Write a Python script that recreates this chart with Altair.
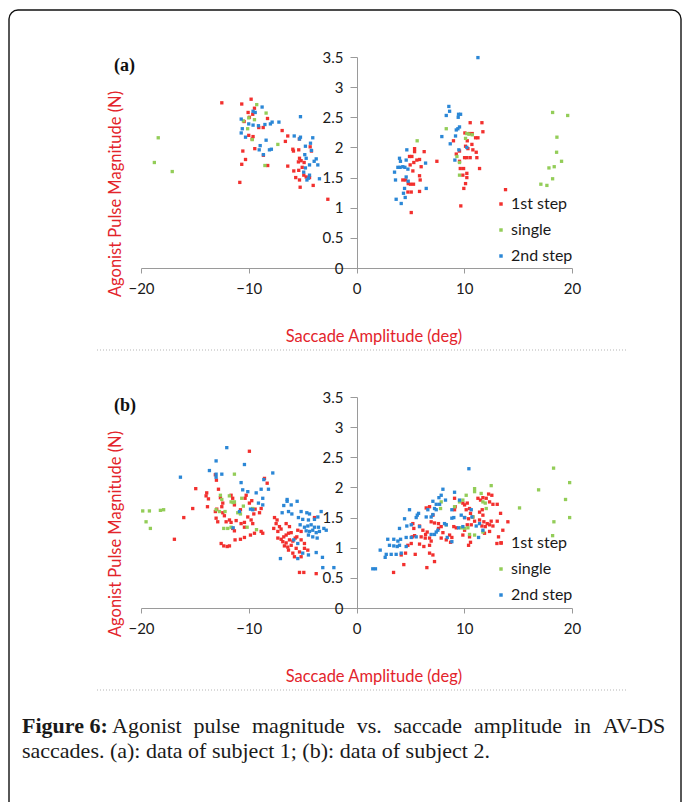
import altair as alt
import pandas as pd

SERIES = ["1st step", "single", "2nd step"]
COLORS = ["#f2302e", "#93cd58", "#2b87d6"]
X_TICKS = [-20, -10, 0, 10, 20]
Y_TICKS = [0, 0.5, 1, 1.5, 2, 2.5, 3, 3.5]
X_TITLE = "Saccade Amplitude (deg)"
Y_TITLE = "Agonist Pulse Magnitude (N)"

# ---------------- panel (a): subject 1 ----------------
a_first = [(-12.5, 2.74), (-10.65, 2.72), (-9.78, 2.80), (-10.06, 2.58), (-9.63, 2.55), (-9.94, 2.50),
           (-10.43, 2.43), (-8.26, 2.48), (-9.07, 2.33), (-8.66, 2.33), (-10.55, 1.94), (-10.3, 1.80),
           (-10.65, 1.72), (-10.83, 1.42), (-9.68, 2.14), (-9.44, 1.98), (-10.0, 2.20), (-9.6, 2.18),
           (-8.24, 1.70), (-8.64, 1.87), (-9.47, 2.65), (-6.9, 2.28), (-6.38, 2.19), (-6.6, 2.10),
           (-6.38, 1.69), (-5.91, 1.97), (-5.85, 1.94), (-5.36, 1.96), (-5.29, 1.82), (-5.39, 1.76),
           (-5.14, 1.78), (-4.86, 1.75), (-5.04, 1.67), (-5.36, 1.62), (-5.82, 1.61), (-5.64, 1.50),
           (-5.29, 1.46), (-4.89, 1.54), (-4.67, 1.51), (-5.23, 1.34), (-4.36, 1.50), (-4.02, 1.37),
           (-2.66, 1.14), (-5.3, 2.14), (-4.3, 2.01), (-4.18, 1.94),
           (5.39, 1.98), (5.39, 1.93), (4.92, 1.85), (5.14, 1.85), (6.28, 1.93), (5.6, 1.79), (5.85, 1.80),
           (5.32, 1.75), (4.98, 1.71), (6.0, 1.68), (5.23, 1.61), (4.3, 1.46), (4.55, 1.46), (5.85, 1.53),
           (5.91, 1.46), (4.8, 1.40), (5.01, 1.39), (5.29, 1.39), (4.77, 1.26), (5.08, 1.26), (5.85, 1.27),
           (5.08, 0.92), (7.46, 1.77),
           (10.55, 2.41), (11.64, 2.41), (11.73, 2.26), (10.06, 2.24), (10.49, 2.23), (10.74, 2.23),
           (9.0, 2.11), (10.28, 2.11), (11.05, 2.16), (11.27, 2.16), (10.71, 2.05), (10.12, 2.02),
           (10.34, 1.98), (9.56, 1.94), (10.8, 1.96), (9.26, 1.89), (11.11, 1.92), (10.03, 1.83),
           (10.24, 1.83), (10.55, 1.83), (11.17, 1.83), (9.56, 1.77), (9.63, 1.65), (9.94, 1.65),
           (11.42, 1.65), (10.24, 1.57), (9.87, 1.54), (10.24, 1.50), (10.12, 1.40), (9.96, 1.32),
           (9.68, 1.03), (13.83, 1.30)]
a_single = [(-18.4, 2.16), (-18.76, 1.75), (-17.1, 1.60), (-9.26, 2.71), (-8.39, 2.57), (-10.5, 2.44),
            (-10.0, 2.49), (-9.47, 2.46), (-10.1, 2.31), (-9.68, 2.13), (-7.3, 2.05), (-8.5, 1.70),
            (5.63, 2.11), (8.33, 2.31), (10.24, 2.23), (10.43, 2.22), (10.74, 2.21), (10.12, 2.15),
            (9.32, 1.85), (9.56, 1.75), (9.56, 1.54),
            (18.2, 2.58), (19.6, 2.53), (18.6, 2.17), (18.57, 1.92), (19.03, 1.77), (17.86, 1.66),
            (18.35, 1.68), (18.2, 1.48), (17.11, 1.39), (17.67, 1.37)]
a_second = [(-8.76, 2.67), (-10.7, 2.47), (-9.6, 2.60), (-9.4, 2.58), (-10.0, 2.39), (-10.6, 2.31),
            (-10.7, 2.24), (-10.3, 2.17), (-9.6, 2.37), (-9.1, 2.36), (-8.5, 2.38), (-7.99, 2.39),
            (-7.83, 2.42), (-7.2, 2.42), (-8.39, 2.12), (-8.94, 2.03), (-9.03, 1.96), (-8.64, 1.88),
            (-8.08, 1.96), (-7.9, 1.97), (-5.2, 2.51), (-5.78, 2.19), (-5.2, 2.17), (-5.29, 2.14),
            (-4.74, 2.02), (-4.27, 2.07), (-4.06, 2.16), (-4.18, 1.95), (-4.8, 1.88), (-4.67, 1.82),
            (-3.74, 1.81), (-3.93, 1.77), (-3.59, 1.71), (-4.36, 1.71), (-4.74, 1.66), (-4.9, 1.59),
            (-4.36, 1.54), (-4.46, 1.49), (-4.6, 1.46), (-3.44, 1.48),
            (11.27, 3.49), (8.57, 2.68), (8.64, 2.60), (8.33, 2.53), (9.47, 2.55), (9.66, 2.55),
            (9.44, 2.50), (9.56, 2.34), (9.41, 2.31), (9.26, 2.29), (9.19, 2.19), (7.92, 2.18),
            (8.7, 2.06), (10.24, 2.00), (9.5, 1.96), (9.13, 1.79),
            (4.67, 1.96), (3.99, 1.82), (4.08, 1.77), (4.61, 1.79), (3.84, 1.67), (4.05, 1.67),
            (4.3, 1.68), (4.49, 1.67), (3.53, 1.59), (4.77, 1.64), (4.61, 1.51), (3.62, 1.46),
            (4.8, 1.44), (4.46, 1.32), (4.36, 1.24), (3.68, 1.14), (4.15, 1.07), (4.52, 1.17),
            (6.41, 1.74), (6.47, 1.32)]

# ---------------- panel (b): subject 2 ----------------
b_first = [(-16.9, 1.14), (-16.03, 1.50), (-15.2, 1.65), (-14.92, 1.98), (-13.96, 1.86), (-13.83, 1.68),
           (-13.74, 1.81), (-9.94, 2.60), (-13.9, 1.91), (-13.1, 1.60), (-12.97, 1.64), (-12.81, 1.97),
           (-12.63, 1.83), (-12.41, 1.74), (-12.5, 1.68), (-13.03, 1.49), (-12.88, 1.43), (-12.41, 1.58),
           (-12.26, 1.53), (-12.1, 1.43), (-11.79, 1.46), (-11.64, 1.42), (-11.64, 1.87), (-11.49, 1.82),
           (-11.33, 1.71), (-12.56, 1.07), (-12.32, 1.03), (-12.0, 1.02), (-11.79, 1.03), (-11.49, 1.32),
           (-11.33, 1.28), (-11.27, 1.13), (-10.77, 1.14), (-10.4, 1.17), (-10.71, 1.40), (-10.4, 1.42),
           (-10.4, 1.34), (-10.09, 1.51), (-9.78, 1.46), (-10.24, 1.87), (-10.34, 1.82), (-9.94, 1.74),
           (-9.72, 1.78), (-9.41, 1.64), (-9.53, 1.56), (-10.77, 1.63), (-11.17, 1.45), (-9.84, 1.21),
           (-9.47, 1.24), (-8.7, 1.24), (-8.85, 1.27), (-9.63, 1.40), (-8.54, 2.15), (-8.29, 2.07),
           (-8.85, 1.65), (-9.0, 1.58), (-13.1, 2.21), (-13.0, 2.12),
           (-7.61, 1.50), (-7.37, 1.46), (-7.46, 1.40), (-7.15, 1.35), (-7.68, 1.32), (-7.3, 1.27),
           (-7.0, 1.31), (-7.3, 1.16), (-6.99, 1.14), (-6.75, 1.18), (-6.53, 1.21), (-6.31, 1.24),
           (-6.06, 1.25), (-6.84, 1.10), (-6.53, 1.08), (-6.22, 1.13), (-5.91, 1.11), (-5.69, 1.16),
           (-5.54, 1.18), (-6.69, 1.03), (-6.38, 1.01), (-6.06, 1.04), (-6.31, 0.96), (-5.91, 0.91),
           (-5.6, 0.99), (-6.53, 1.40), (-6.22, 1.35), (-5.45, 1.29), (-5.14, 1.27), (-5.14, 1.13),
           (-4.83, 1.07), (-4.83, 0.99), (-5.29, 0.93), (-4.52, 0.96), (-5.76, 0.85), (-5.14, 0.85),
           (-5.29, 0.59), (-4.89, 0.59), (-3.74, 0.57), (-3.9, 1.50),
           (3.44, 0.59), (4.39, 0.72), (6.53, 0.67), (4.15, 0.88), (4.55, 0.91), (4.77, 1.04),
           (5.08, 1.07), (5.17, 1.18), (5.39, 1.20), (5.45, 0.89), (5.23, 1.40), (5.32, 1.32),
           (5.85, 1.36), (6.16, 1.29), (6.0, 1.18), (6.38, 1.16), (5.85, 1.06), (6.25, 1.02),
           (6.78, 1.04), (6.41, 1.22), (6.56, 1.26), (6.78, 1.16), (6.93, 1.11), (6.78, 0.91),
           (7.24, 0.77), (7.09, 0.88), (6.47, 1.66), (6.78, 1.68), (7.09, 1.54), (6.93, 1.43),
           (7.24, 1.41), (7.61, 1.40), (7.86, 1.35), (7.61, 1.32), (8.02, 1.25), (7.86, 1.16),
           (8.33, 1.13), (8.64, 1.21), (8.73, 1.09), (8.85, 1.17), (9.1, 1.82), (9.16, 1.68),
           (9.1, 1.63), (9.03, 1.35), (9.26, 1.33), (9.87, 1.74), (10.03, 1.71), (10.28, 1.74),
           (10.49, 1.65), (10.18, 1.63), (10.58, 1.57), (10.03, 1.50), (10.4, 1.48), (10.8, 1.51),
           (10.96, 1.44), (10.65, 1.38), (10.28, 1.38), (10.03, 1.29), (9.87, 1.21), (10.49, 1.18),
           (10.58, 1.09), (10.4, 1.04), (11.27, 1.82), (11.51, 1.79), (11.73, 1.83), (12.04, 1.82),
           (12.35, 1.76), (12.66, 1.72), (12.26, 1.89), (12.56, 1.87), (11.42, 1.59), (11.67, 1.63),
           (11.73, 1.54), (11.42, 1.46), (11.82, 1.43), (12.13, 1.40), (12.5, 1.44), (11.64, 1.36),
           (11.95, 1.35), (12.35, 1.38), (12.66, 1.36), (11.88, 1.24), (12.35, 1.27), (13.06, 1.72),
           (13.06, 1.44), (13.37, 1.57), (13.58, 1.29), (13.18, 1.18), (14.05, 1.43), (13.43, 1.08),
           (13.03, 1.07)]
b_single = [(-19.84, 1.61), (-19.22, 1.61), (-19.53, 1.43), (-19.13, 1.32), (-18.2, 1.62), (-17.9, 1.63),
            (-11.33, 2.22), (-12.63, 1.87), (-12.5, 1.80), (-11.64, 1.76), (-11.45, 1.75), (-11.33, 1.76),
            (-10.65, 1.82), (-13.03, 1.63), (-12.72, 1.60), (-11.02, 1.58), (-10.77, 1.56), (-11.95, 1.32),
            (-11.64, 1.34), (-12.32, 1.32), (-10.15, 1.34), (-9.63, 1.65), (-9.28, 1.30), (-11.8, 1.86),
            (-12.2, 1.60), (-10.5, 1.69),
            (7.86, 1.76), (7.8, 1.65), (9.1, 1.68), (9.56, 1.76), (9.87, 1.79), (10.18, 1.87),
            (10.96, 1.98), (10.96, 1.93), (11.57, 1.90), (12.5, 2.03), (11.73, 1.76), (11.95, 1.74),
            (12.04, 1.65), (10.8, 1.51), (9.72, 1.33), (10.03, 1.32), (10.34, 1.33), (10.49, 1.22),
            (10.96, 1.21), (11.73, 1.26), (8.33, 1.38), (15.13, 1.66), (16.9, 1.96), (18.29, 2.32),
            (19.78, 2.08), (19.4, 1.80), (19.78, 1.50), (18.32, 1.43), (18.2, 1.20)]
b_second = [(-12.04, 2.66), (-13.03, 2.44), (-10.4, 2.38), (-13.65, 2.28), (-13.03, 2.22), (-12.5, 2.22),
            (-13.03, 2.17), (-16.34, 2.17), (-7.77, 2.24), (-10.71, 2.08), (-8.6, 2.13), (-10.56, 1.96),
            (-10.09, 1.93), (-9.31, 1.91), (-8.85, 1.97), (-8.17, 1.97), (-8.7, 1.82), (-9.1, 1.74),
            (-8.7, 1.71), (-9.84, 1.64), (-9.63, 1.63), (-10.86, 1.60), (-11.45, 1.33),
            (-6.44, 1.80), (-6.44, 1.77), (-5.51, 1.77), (-6.75, 1.70), (-6.06, 1.71), (-6.9, 1.58),
            (-6.31, 1.60), (-6.0, 1.56), (-5.14, 1.60), (-4.61, 1.58), (-4.36, 1.56), (-5.39, 1.50),
            (-4.99, 1.47), (-4.46, 1.46), (-3.9, 1.47), (-3.59, 1.51), (-3.28, 1.60), (-5.23, 1.38),
            (-4.83, 1.34), (-4.52, 1.36), (-4.21, 1.38), (-3.9, 1.34), (-3.53, 1.34), (-4.67, 1.28),
            (-4.36, 1.27), (-4.06, 1.29), (-3.74, 1.25), (-3.44, 1.27), (-4.46, 1.21), (-4.06, 1.18),
            (-3.65, 1.16), (-3.03, 1.32), (-2.81, 1.29), (-5.82, 1.13), (-5.45, 1.07), (-4.99, 0.91),
            (-4.46, 0.88), (-3.74, 0.92), (-7.06, 0.82), (-5.45, 0.82), (-3.13, 0.67), (-2.1, 0.67),
            (-3.16, 0.84),
            (10.43, 2.31), (1.51, 0.65), (1.76, 0.65), (2.2, 0.96), (2.76, 0.89), (2.66, 0.84),
            (2.9, 1.14), (3.46, 1.14), (3.84, 1.11), (4.09, 1.14), (3.06, 1.04), (3.46, 1.03),
            (3.78, 1.02), (3.99, 1.04), (3.22, 0.89), (3.68, 0.89), (4.15, 0.91), (4.46, 1.48),
            (3.99, 1.32), (4.67, 1.36), (5.08, 1.38), (4.61, 1.17), (5.08, 1.17), (5.54, 1.18),
            (4.61, 1.02), (4.92, 1.63), (5.54, 1.50), (5.64, 1.54), (5.76, 1.57), (5.85, 1.35),
            (6.47, 1.51), (6.62, 1.63), (7.09, 1.77), (7.24, 1.65), (7.4, 1.72), (7.71, 1.72),
            (7.4, 1.63), (7.65, 1.83), (8.02, 1.97), (7.86, 1.87), (8.26, 1.79), (6.93, 1.51),
            (7.09, 1.55), (7.4, 1.26), (7.55, 1.29), (6.93, 1.22), (7.24, 1.22), (8.17, 1.40),
            (8.33, 1.38), (9.1, 1.92), (8.85, 1.63), (9.03, 1.50), (8.85, 1.49), (8.42, 1.17),
            (9.56, 1.79), (9.72, 1.54), (10.03, 1.50), (9.47, 1.33), (9.87, 1.35), (10.65, 1.63),
            (10.71, 1.51), (11.42, 1.40), (11.11, 1.36), (11.73, 1.29), (11.33, 1.17), (8.85, 1.10)]

CAPTION_BOLD = "Figure 6:"
CAPTION_LINE1 = ["Agonist", "pulse", "magnitude", "vs.", "saccade", "amplitude", "in", "AV-DS"]
CAPTION_LINE2 = "saccades. (a): data of subject 1; (b): data of subject 2."


def table(first, single, second):
    rows = []
    for name, pts in zip(SERIES, [first, single, second]):
        for x, y in pts:
            rows.append({"amp": x, "mag": y, "series": name})
    return pd.DataFrame(rows)


W, H = 683, 802
X_LEFT, X_RIGHT = 141, 572
Y_AXIS_X = 357
RED = "#e3242b"
ONE = alt.Data(values=[{"k": 0}])


def panel(df, y_top, y_bottom, legend_y):
    return alt.Chart(df).mark_square(size=11, opacity=1).encode(
        x=alt.X("amp:Q",
                scale=alt.Scale(domain=[-20, 20], range=[X_LEFT, X_RIGHT], nice=False, zero=False),
                axis=alt.Axis(orient="bottom", offset=y_bottom - H, values=X_TICKS, title=None,
                              grid=False, tickSize=5, labelPadding=8, domainColor="#9a9a9a",
                              tickColor="#9a9a9a", labelFlush=False, labelOverlap=False)),
        y=alt.Y("mag:Q",
                scale=alt.Scale(domain=[0, 3.5], range=[y_bottom, y_top], nice=False, zero=False),
                axis=alt.Axis(orient="left", offset=-Y_AXIS_X, values=Y_TICKS, format="~g",
                              title=None, grid=False, tickSize=7, labelPadding=7,
                              domainColor="#9a9a9a", tickColor="#9a9a9a",
                              labelFlush=False, labelOverlap=False)),
        color=alt.Color("series:N", scale=alt.Scale(domain=SERIES, range=COLORS),
                        legend=alt.Legend(orient="none", legendX=493, legendY=legend_y, title=None,
                                          symbolType="square", symbolSize=12, labelFontSize=16,
                                          labelFont="Lato", labelColor="#1a1a1a", rowPadding=10,
                                          labelOffset=2, padding=0, symbolStrokeWidth=0)),
    )


def text(s, x, y, **kw):
    return alt.Chart(ONE).mark_text(text=s, **kw).encode(x=alt.value(x), y=alt.value(y))


panel_a = panel(table(a_first, a_single, a_second), 57, 268, 196)
panel_b = panel(table(b_first, b_single, b_second), 397, 608, 535)

frame = alt.Chart(ONE).mark_rect(fillOpacity=0, stroke="#111", strokeWidth=1.4, cornerRadius=9).encode(
    x=alt.value(9), x2=alt.value(681), y=alt.value(10), y2=alt.value(840))
sep_a = alt.Chart(ONE).mark_rule(color="#b5b5b5", strokeDash=[1, 2], strokeWidth=1).encode(
    x=alt.value(97), x2=alt.value(627), y=alt.value(350))
sep_b = alt.Chart(ONE).mark_rule(color="#b5b5b5", strokeDash=[1, 2], strokeWidth=1).encode(
    x=alt.value(97), x2=alt.value(627), y=alt.value(690))

title_style = dict(font="Lato", fontSize=16.5, color=RED, align="center", baseline="middle")
label_style = dict(font="Liberation Serif", fontSize=18, fontWeight="bold", color="#111",
                   align="left", baseline="alphabetic")
texts = [
    text("(a)", 114, 71, **label_style),
    text("(b)", 114, 411, **label_style),
    text(Y_TITLE, 116, 194, angle=270, **title_style),
    text(Y_TITLE, 116, 534, angle=270, **title_style),
    text(X_TITLE, 374, 337, **title_style),
    text(X_TITLE, 374, 677, **title_style),
]

cap_style = dict(font="Liberation Serif", fontSize=22, color="#1a1a1a", align="left",
                 baseline="alphabetic")
texts.append(text(CAPTION_BOLD, 22, 733, fontWeight="bold", **cap_style))
word_x = [112, 193.6, 251.9, 356.7, 393.7, 474.0, 573.9, 602.9]
for w, wx in zip(CAPTION_LINE1, word_x):
    texts.append(text(w, wx, 733, **cap_style))
texts.append(text(CAPTION_LINE2, 22, 758, **cap_style))

chart = alt.layer(frame, sep_a, sep_b, panel_a, panel_b, *texts).resolve_scale(
    x="independent", y="independent", color="independent"
).properties(
    width=W, height=H, padding=0, autosize=alt.AutoSizeParams(type="none"),
    background="white",
).configure_view(stroke=None).configure_axis(
    labelFont="Lato", labelFontSize=15, labelColor="#1a1a1a"
)

chart.save("out.html", embed_options={"renderer": "svg", "actions": False})
